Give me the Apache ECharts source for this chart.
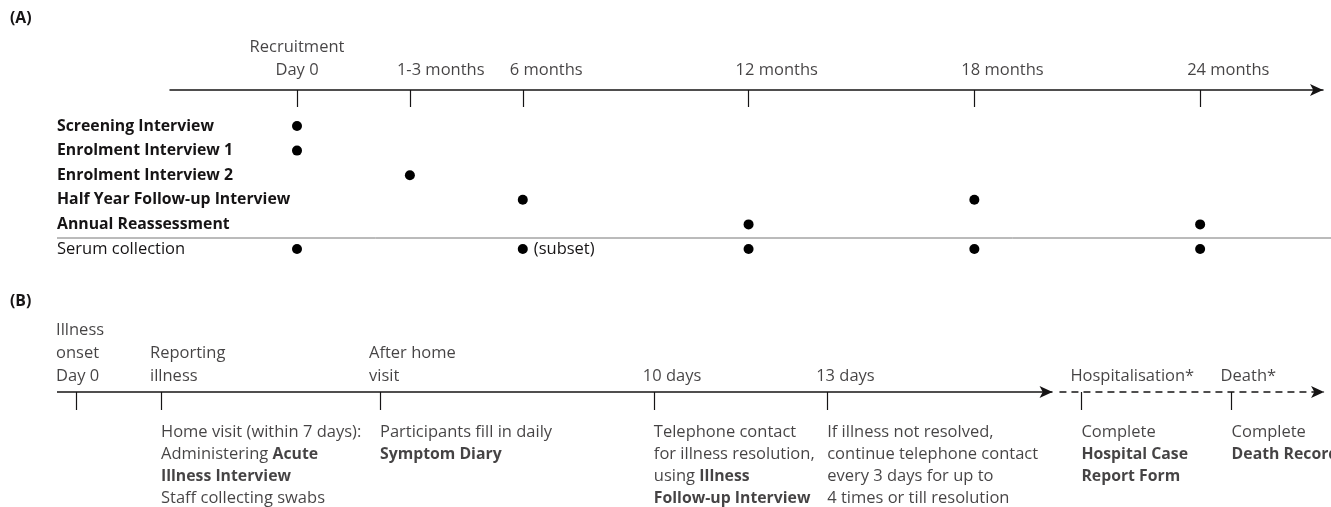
<!DOCTYPE html>
<html>
<head>
<meta charset="utf-8">
<style>
  html, body { margin: 0; padding: 0; background: #fff; }
  #chart { width: 1331px; height: 507px; }
</style>
<script src="https://cdn.jsdelivr.net/npm/echarts@6/dist/echarts.min.js"></script>
</head>
<body>
<div id="chart"></div>
<script>
// (A) follow-up schedule, x in months
const months = [0, 3, 6, 12, 18, 24];
const monthLabels = ['Recruitment\nDay 0', '1-3 months', '6 months', '12 months', '18 months', '24 months'];
const rows = [
  'Screening Interview',
  'Enrolment Interview 1',
  'Enrolment Interview 2',
  'Half Year Follow-up Interview',
  'Annual Reassessment',
  'Serum collection'
];
const boldRows = [true, true, true, true, true, false];
const visits = [[0], [0], [3], [6, 18], [12, 24], [0, 6, 12, 18, 24]];
const visitNotes = { 'Serum collection|6': '(subset)' };

// (B) illness episode, x in days (schematic)
const stageDays = [0, 1.47, 5.26, 10, 13, 17.4, 20];
const stageLabels = [
  'Illness\nonset\nDay 0',
  'Reporting\nillness',
  'After home\nvisit',
  '10 days',
  '13 days',
  'Hospitalisation*',
  'Death*'
];
const stageNotes = [
  '',
  'Home visit (within 7 days):\nAdministering {b|Acute}\n{b|Illness Interview}\nStaff collecting swabs',
  'Participants fill in daily\n{b|Symptom Diary}',
  'Telephone contact\nfor illness resolution,\nusing {b|Illness}\n{b|Follow-up Interview}',
  'If illness not resolved,\ncontinue telephone contact\nevery 3 days for up to\n4 times or till resolution',
  'Complete\n{b|Hospital Case}\n{b|Report Form}',
  'Complete\n{b|Death Record}'
];
const solidUntil = 16.9;   // routine follow-up ends, dashed part after
const dashedUntil = 21.6;

const FONT = '"Open Sans", sans-serif';
const INK = '#161415';
const FS = 16.5;      // regular text
const FSB = 15.8;     // bold text

let myChart = echarts.init(document.getElementById('chart'));

let dotData = [];
visits.forEach((list, i) => {
  list.forEach(m => {
    let note = visitNotes[rows[i] + '|' + m];
    let item = { value: [m, rows[i]] };
    if (note) {
      item.label = {
        show: true,
        position: 'right',
        distance: 6,
        formatter: note,
        color: INK,
        fontFamily: FONT,
        fontSize: FS
      };
    }
    dotData.push(item);
  });
});

let option = {
  animation: false,
  textStyle: { fontFamily: FONT, color: INK },
  grid: [
    { left: 170, right: 8, top: 30, height: 60 },
    { left: 170, right: 8, top: 113.7, height: 147.6 },
    { left: 57, right: 0, top: 300, height: 92 }
  ],
  xAxis: [
    {
      gridIndex: 0,
      type: 'value',
      min: -3.375,
      max: 27.265,
      axisLine: {
        show: true,
        symbol: ['none', 'arrow'],
        symbolSize: [9, 13],
        lineStyle: { color: INK, width: 1.5 }
      },
      axisTick: {
        show: true,
        customValues: months,
        length: 17,
        lineStyle: { color: INK, width: 1.2 }
      },
      axisLabel: { show: false },
      splitLine: { show: false }
    },
    { gridIndex: 1, type: 'value', min: -3.375, max: 27.265, show: false },
    {
      gridIndex: 2,
      type: 'value',
      min: -0.33,
      max: 21.72,
      axisLine: { show: false },
      axisTick: {
        show: true,
        customValues: stageDays,
        length: 18,
        lineStyle: { color: INK, width: 1.2 }
      },
      axisLabel: { show: false },
      splitLine: { show: false }
    }
  ],
  yAxis: [
    { gridIndex: 0, type: 'value', min: 0, max: 1, show: false },
    {
      gridIndex: 1,
      type: 'category',
      data: rows,
      inverse: true,
      axisLine: { show: false },
      axisTick: { show: false },
      splitLine: { show: false },
      axisLabel: {
        margin: 113,
        align: 'left',
        formatter: (v, i) => (boldRows[i] ? '{b|' + v + '}' : '{r|' + v + '}'),
        rich: {
          b: { fontFamily: FONT, fontSize: FSB, fontWeight: 'bold', color: INK },
          r: { fontFamily: FONT, fontSize: FS, color: INK }
        }
      }
    },
    { gridIndex: 2, type: 'value', min: 0, max: 1, show: false }
  ],
  series: [
    {
      // month labels above the (A) time line
      type: 'scatter',
      xAxisIndex: 0,
      yAxisIndex: 0,
      symbolSize: 0,
      clip: false,
      silent: true,
      data: months.map((m, i) => ({
        value: [m, 0],
        label: {
          show: true,
          formatter: monthLabels[i],
          position: i === 0 ? [0, -8] : [-13, -8],
          align: i === 0 ? 'center' : 'left',
          verticalAlign: 'bottom',
          lineHeight: 23,
          fontFamily: FONT,
          fontSize: FS,
          color: INK
        }
      }))
    },
    {
      // visit dots
      type: 'scatter',
      xAxisIndex: 1,
      yAxisIndex: 1,
      symbolSize: 10,
      silent: true,
      clip: false,
      itemStyle: { color: '#000', opacity: 1 },
      data: dotData
    },
    {
      // stage labels above the (B) time line + the line itself
      type: 'scatter',
      xAxisIndex: 2,
      yAxisIndex: 2,
      symbolSize: 0,
      clip: false,
      silent: true,
      data: stageDays.map((d, i) => ({
        value: [d, 0],
        label: {
          show: true,
          formatter: stageLabels[i],
          position: i === 0 ? [-20, -4] : [-11, -4],
          align: 'left',
          verticalAlign: 'bottom',
          lineHeight: 23,
          fontFamily: FONT,
          fontSize: FS,
          color: INK
        }
      })),
      markLine: {
        silent: true,
        animation: false,
        symbol: ['none', 'arrow'],
        symbolSize: 13,
        label: { show: false },
        emphasis: { disabled: true },
        lineStyle: { color: INK, width: 1.5 },
        data: [
          [
            { coord: [-0.33, 0], lineStyle: { type: 'solid', color: INK, width: 1.5 } },
            { coord: [solidUntil, 0], symbolSize: [9, 13] }
          ],
          [
            { coord: [solidUntil + 0.12, 0], lineStyle: { type: [7, 5], color: INK, width: 1.5 } },
            { coord: [dashedUntil, 0], symbolSize: [9, 13] }
          ]
        ]
      }
    },
    {
      // what happens at each stage
      type: 'scatter',
      xAxisIndex: 2,
      yAxisIndex: 2,
      symbolSize: 0,
      clip: false,
      silent: true,
      data: stageDays.map((d, i) => ({
        value: [d, 0],
        label: {
          show: stageNotes[i] !== '',
          formatter: stageNotes[i],
          position: [0, 29],
          align: 'left',
          verticalAlign: 'top',
          lineHeight: 22,
          fontFamily: FONT,
          fontSize: FS,
          color: INK,
          rich: {
            b: { fontFamily: FONT, fontSize: FSB, fontWeight: 'bold', color: INK, lineHeight: 22 }
          }
        }
      }))
    }
  ],
  graphic: [
    {
      type: 'text',
      left: 10,
      top: 10,
      style: { text: '(A)', fontFamily: FONT, fontSize: FSB, fontWeight: 'bold', fill: INK }
    },
    {
      type: 'text',
      left: 10,
      top: 293,
      style: { text: '(B)', fontFamily: FONT, fontSize: FSB, fontWeight: 'bold', fill: INK }
    },
    {
      type: 'line',
      shape: { x1: 57, y1: 238, x2: 1331, y2: 238 },
      style: { stroke: '#777', lineWidth: 1 }
    }
  ]
};

myChart.setOption(option);
</script>
</body>
</html>
